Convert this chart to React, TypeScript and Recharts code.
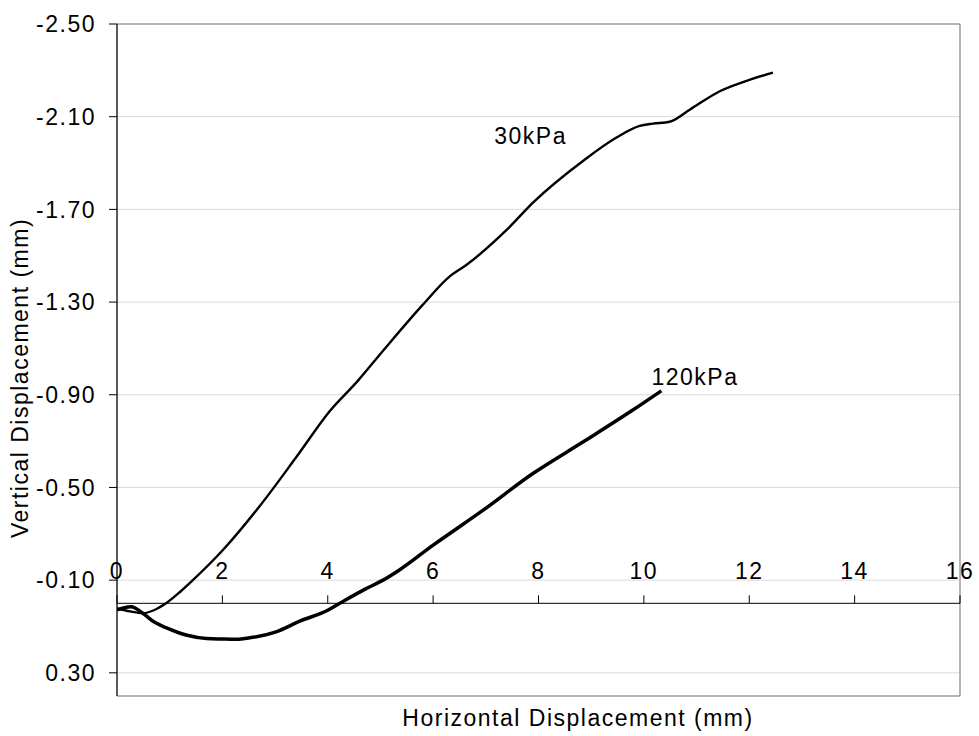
import React from 'react';
import { LineChart, Line, XAxis, YAxis, CartesianGrid, ReferenceLine, ReferenceDot, ReferenceArea } from 'recharts';

const xTicks = [0, 2, 4, 6, 8, 10, 12, 14, 16];
const yTicks = [-2.5, -2.1, -1.7, -1.3, -0.9, -0.5, -0.1, 0.3];

const series30kPa = [
  { x: 0, y: 0.022 }, { x: 0.25, y: 0.035 }, { x: 0.49, y: 0.043 }, { x: 0.7, y: 0.03 },
  { x: 0.93, y: 0.0 }, { x: 1.2, y: -0.05 }, { x: 1.44, y: -0.1 }, { x: 2.01, y: -0.23 },
  { x: 2.71, y: -0.42 }, { x: 3.4, y: -0.63 }, { x: 4.04, y: -0.83 }, { x: 4.57, y: -0.96 },
  { x: 5.05, y: -1.09 }, { x: 5.81, y: -1.29 }, { x: 6.31, y: -1.41 }, { x: 6.63, y: -1.46 },
  { x: 7.39, y: -1.61 }, { x: 7.9, y: -1.73 }, { x: 8.85, y: -1.91 }, { x: 9.48, y: -2.01 },
  { x: 9.92, y: -2.06 }, { x: 10.17, y: -2.07 }, { x: 10.49, y: -2.078 }, { x: 10.87, y: -2.13 },
  { x: 11.44, y: -2.21 }, { x: 11.95, y: -2.255 }, { x: 12.45, y: -2.29 },
];

const series120kPa = [
  { x: 0, y: 0.028 }, { x: 0.12, y: 0.02 }, { x: 0.27, y: 0.015 }, { x: 0.49, y: 0.043 },
  { x: 0.7, y: 0.08 }, { x: 0.93, y: 0.105 }, { x: 1.31, y: 0.137 }, { x: 1.7, y: 0.152 },
  { x: 2.0, y: 0.154 }, { x: 2.26, y: 0.155 }, { x: 2.52, y: 0.149 }, { x: 3.02, y: 0.123 },
  { x: 3.47, y: 0.077 }, { x: 4.0, y: 0.03 }, { x: 4.23, y: 0.0 }, { x: 4.7, y: -0.06 },
  { x: 5.05, y: -0.1 }, { x: 5.36, y: -0.144 }, { x: 6.0, y: -0.251 }, { x: 6.95, y: -0.402 },
  { x: 7.9, y: -0.561 }, { x: 8.85, y: -0.697 }, { x: 9.79, y: -0.834 }, { x: 10.33, y: -0.917 },
];

const seriesLabels = [
  { name: '30kPa', x: 7.85, y: -1.982 },
  { name: '120kPa', x: 10.97, y: -0.942 },
];

const xTitle = 'Horizontal Displacement (mm)';
const yTitle = 'Vertical Displacement (mm)';

const FONT = "'Liberation Sans', Arial, sans-serif";
const FS = 23;
const LS = 1.5;

export default function App() {
  return (
    <div style={{ position: 'absolute', left: 0, top: 0, background: '#fff' }}>
      <LineChart width={979} height={736} margin={{ top: 24, right: 19, bottom: 0, left: 0 }}>
        <CartesianGrid stroke="#d9d9d9" strokeWidth={1} />
        <ReferenceArea x1={0} x2={16} y1={-2.5} y2={0.4} fill="none" stroke="#7f7f7f" strokeWidth={1} ifOverflow="visible" />
        <XAxis
          type="number"
          dataKey="x"
          domain={[0, 16]}
          ticks={xTicks}
          allowDataOverflow
          height={40}
          axisLine={false}
          tickLine={false}
          tick={false}
          label={{
            content: () => (
              <text x={578} y={726} textAnchor="middle" fontSize={FS} letterSpacing={LS} fontFamily={FONT} fill="#000">
                {xTitle}
              </text>
            ),
          }}
        />
        <YAxis
          type="number"
          domain={[-2.5, 0.4]}
          ticks={yTicks}
          reversed
          allowDataOverflow
          interval={0}
          width={117}
          tickSize={8}
          tickMargin={13}
          stroke="#000"
          tickFormatter={(v: number) => v.toFixed(2)}
          tick={{ fill: '#000', fontSize: FS, fontFamily: FONT, letterSpacing: LS }}
          label={{
            content: () => (
              <text transform="translate(28,378) rotate(-90)" textAnchor="middle" fontSize={FS} letterSpacing={LS} fontFamily={FONT} fill="#000">
                {yTitle}
              </text>
            ),
          }}
        />
        <ReferenceLine y={0} stroke="#000" strokeWidth={1} />
        {xTicks.map((t) => (
          <ReferenceDot
            key={'xt' + t}
            x={t}
            y={0}
            r={0}
            ifOverflow="visible"
            shape={(p: any) => (
              <g>
                <line x1={p.cx} x2={p.cx} y1={p.cy - 8} y2={p.cy} stroke="#000" strokeWidth={1} />
                <text x={p.cx} y={p.cy - 24} textAnchor="middle" fontSize={FS} letterSpacing={LS} fontFamily={FONT} fill="#000">
                  {t}
                </text>
              </g>
            )}
          />
        ))}
        <Line data={series30kPa} dataKey="y" type="monotone" stroke="#000" strokeWidth={2.4} dot={false} isAnimationActive={false} />
        <Line data={series120kPa} dataKey="y" type="monotone" stroke="#000" strokeWidth={3.5} dot={false} isAnimationActive={false} />
        {seriesLabels.map((s) => (
          <ReferenceDot
            key={s.name}
            x={s.x}
            y={s.y}
            r={0}
            ifOverflow="visible"
            shape={(p: any) => (
              <text x={p.cx} y={p.cy} textAnchor="middle" fontSize={FS} letterSpacing={LS} fontFamily={FONT} fill="#000">
                {s.name}
              </text>
            )}
          />
        ))}
      </LineChart>
    </div>
  );
}
